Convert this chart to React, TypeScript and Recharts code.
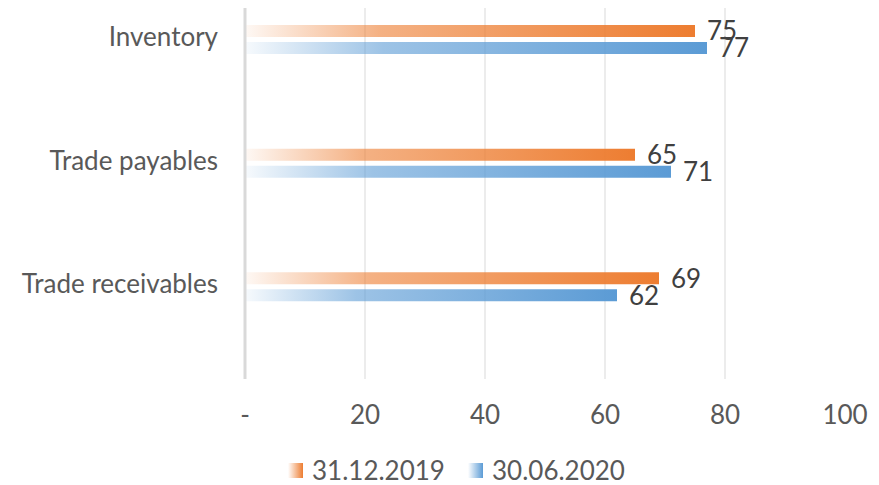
import React from 'react';
import {
  BarChart,
  Bar,
  XAxis,
  YAxis,
  CartesianGrid,
  Legend,
  LabelList,
} from 'recharts';

const CATEGORIES = ['Inventory', 'Trade payables', 'Trade receivables'];
const VALUES_2019 = [75, 65, 69];
const VALUES_2020 = [77, 71, 62];
const SERIES_NAMES = ['31.12.2019', '30.06.2020'];
const X_TICKS = [0, 20, 40, 60, 80, 100];
const GRID_VALUES = [20, 40, 60, 80];

const ORANGE = '#ED7D31';
const BLUE = '#5B9BD5';
const TEXT = '#595959';
const FONT = 'Lato, "Open Sans", sans-serif';
const FS = 26;

const chartData = CATEGORIES.map((name, i) => ({
  name,
  s2019: VALUES_2019[i],
  s2020: VALUES_2020[i],
}));

const LegendContent = () => {
  const items = [
    { label: SERIES_NAMES[0], grad: `linear-gradient(to right, #ffffff, ${ORANGE})`, left: 288 },
    { label: SERIES_NAMES[1], grad: `linear-gradient(to right, #ffffff, ${BLUE})`, left: 468 },
  ];
  return (
    <div style={{ position: 'relative', height: 40, width: 879 }}>
      {items.map((it) => (
        <div
          key={it.label}
          style={{
            position: 'absolute',
            left: it.left,
            top: 12,
            display: 'flex',
            alignItems: 'center',
            fontFamily: FONT,
            fontSize: FS,
            lineHeight: '26px',
            color: TEXT,
          }}
        >
          <span style={{ display: 'inline-block', width: 15, height: 15, background: it.grad, marginRight: 9 }} />
          <span>{it.label}</span>
        </div>
      ))}
    </div>
  );
};

export default function App() {
  return (
    <div style={{ width: 879, height: 485, background: '#fff', fontFamily: FONT }}>
      <style>{`body { margin: 0; }`}</style>
      <BarChart
        width={879}
        height={485}
        data={chartData}
        layout="vertical"
        margin={{ top: 8, right: 34, left: 0, bottom: 0 }}
        barSize={12}
        barGap={5}
      >
        <defs>
          <linearGradient id="gradOrange" x1="0" y1="0" x2="1" y2="0">
            <stop offset="0%" stopColor={ORANGE} stopOpacity={0.05} />
            <stop offset="30%" stopColor={ORANGE} stopOpacity={0.6} />
            <stop offset="100%" stopColor={ORANGE} stopOpacity={1} />
          </linearGradient>
          <linearGradient id="gradBlue" x1="0" y1="0" x2="1" y2="0">
            <stop offset="0%" stopColor={BLUE} stopOpacity={0.05} />
            <stop offset="30%" stopColor={BLUE} stopOpacity={0.6} />
            <stop offset="100%" stopColor={BLUE} stopOpacity={1} />
          </linearGradient>
        </defs>
        <CartesianGrid
          horizontal={false}
          stroke="#d9d9d9"
          verticalCoordinatesGenerator={({ offset }: any) =>
            GRID_VALUES.map((v) => offset.left + (v / 100) * offset.width)
          }
        />
        <XAxis
          type="number"
          domain={[0, 100]}
          ticks={X_TICKS}
          interval={0}
          height={66}
          axisLine={false}
          tickLine={false}
          tickMargin={21}
          tickFormatter={(v: number) => (v === 0 ? '-' : String(v))}
          tick={{ fill: TEXT, fontSize: FS, fontFamily: FONT }}
        />
        <YAxis
          type="category"
          dataKey="name"
          width={245}
          padding={{ top: -30, bottom: 30 }}
          axisLine={{ stroke: '#d9d9d9', strokeWidth: 3 }}
          tickLine={false}
          tickMargin={21}
          tick={{ fill: TEXT, fontSize: FS, fontFamily: FONT, dy: -3 }}
        />
        <Legend
          verticalAlign="bottom"
          content={<LegendContent />}
          wrapperStyle={{ left: 0, bottom: 0, width: 879, height: 40 }}
        />
        <Bar dataKey="s2019" name={SERIES_NAMES[0]} fill="url(#gradOrange)" isAnimationActive={false}>
          <LabelList dataKey="s2019" position="right" offset={12} fill="#404040" fontSize={FS} fontFamily={FONT} />
        </Bar>
        <Bar dataKey="s2020" name={SERIES_NAMES[1]} fill="url(#gradBlue)" isAnimationActive={false}>
          <LabelList dataKey="s2020" position="right" offset={12} fill="#404040" fontSize={FS} fontFamily={FONT} />
        </Bar>
      </BarChart>
    </div>
  );
}
